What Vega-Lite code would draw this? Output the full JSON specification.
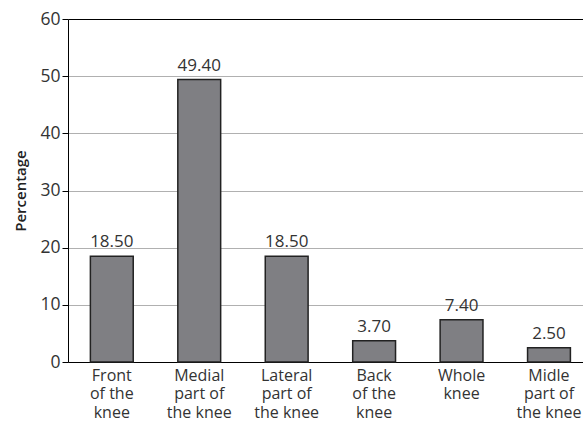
{
  "$schema": "https://vega.github.io/schema/vega-lite/v6.json",
  "autosize": "none",
  "width": 515,
  "height": 343,
  "padding": {"left": 68, "top": 19, "right": 0, "bottom": 60},
  "background": "white",
  "config": {
    "font": "Open Sans",
    "view": {"stroke": null},
    "axis": {"labelFont": "Open Sans", "titleFont": "Open Sans"}
  },
  "data": {
    "values": [
      {"region": "Front|of the|knee", "pct": 18.5},
      {"region": "Medial|part of|the knee", "pct": 49.4},
      {"region": "Lateral|part of|the knee", "pct": 18.5},
      {"region": "Back|of the|knee", "pct": 3.7},
      {"region": "Whole|knee", "pct": 7.4},
      {"region": "Midle|part of|the knee", "pct": 2.5}
    ]
  },
  "encoding": {
    "x": {
      "field": "region",
      "type": "nominal",
      "sort": null,
      "scale": {"paddingInner": 0.51, "paddingOuter": 0.2, "align": 0.64},
      "axis": {
        "title": null,
        "labelAngle": 0,
        "labelExpr": "split(datum.value, '|')",
        "labelFontSize": 16,
        "labelColor": "#333",
        "labelLineHeight": 18.5,
        "labelPadding": 5,
        "ticks": false,
        "domainColor": "black",
        "domainWidth": 1
      }
    },
    "y": {
      "field": "pct",
      "type": "quantitative",
      "scale": {"domain": [0, 60], "nice": false},
      "axis": {
        "title": "Percentage",
        "titleFontSize": 15,
        "titleFontWeight": 600,
        "titleColor": "#222",
        "titlePadding": 11,
        "values": [0, 10, 20, 30, 40, 50, 60],
        "labelFontSize": 17.5,
        "labelColor": "#333",
        "labelPadding": 2,
        "tickSize": 6,
        "tickColor": "black",
        "domainColor": "black",
        "gridColor": {"condition": {"test": "datum.value === 60", "value": "black"}, "value": "#b0b0b0"},
        "gridWidth": 1
      }
    }
  },
  "layer": [
    {
      "mark": {"type": "bar", "color": "#7f7f83", "stroke": "#222", "strokeWidth": 1.5}
    },
    {
      "mark": {"type": "text", "baseline": "alphabetic", "dy": -9, "fontSize": 17, "color": "#333"},
      "encoding": {
        "text": {"field": "pct", "type": "quantitative", "format": ".2f"}
      }
    }
  ]
}
